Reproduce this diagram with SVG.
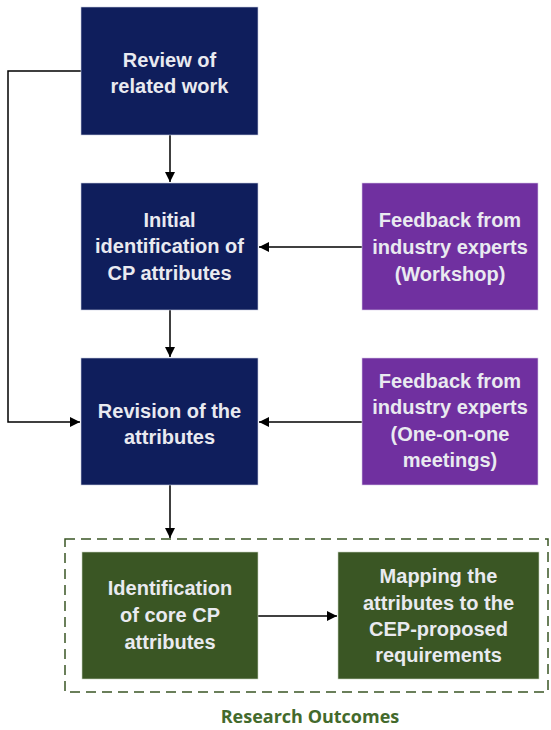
<svg xmlns="http://www.w3.org/2000/svg" width="551" height="730" viewBox="0 0 551 730">
<defs>
<marker id="ah" viewBox="0 0 10 10" refX="10" refY="5" markerWidth="10" markerHeight="10" markerUnits="userSpaceOnUse" orient="auto">
<path d="M0,0 L10,5 L0,10 z" fill="#000"/>
</marker>
</defs>
<style>
.navy{fill:#0f1e5c;stroke:#c8cce0;stroke-width:0.6}
.purple{fill:#7030a0;stroke:#d8c8e8;stroke-width:0.6}
.green{fill:#3a5624;stroke:#c8d4c0;stroke-width:0.6}
.t{font-family:"Liberation Sans",Arial,sans-serif;font-weight:bold;font-size:20px;fill:#e9eaf0;text-anchor:middle}
.c{stroke:#000;stroke-width:1.5;fill:none}
</style>
<rect x="0" y="0" width="551" height="730" fill="#fff"/>
<g id="connectors">
<path class="c" d="M81,71 H8 V422 H80" marker-end="url(#ah)"/>
<path class="c" d="M170,135 V182" marker-end="url(#ah)"/>
<path class="c" d="M170,310 V357" marker-end="url(#ah)"/>
<path class="c" d="M170,485 V538" marker-end="url(#ah)"/>
<path class="c" d="M362,247 H259" marker-end="url(#ah)"/>
<path class="c" d="M362,422 H259" marker-end="url(#ah)"/>
<path class="c" d="M258,616 H337" marker-end="url(#ah)"/>
</g>
<g id="outcomes">
<rect x="65" y="539" width="483" height="153" fill="none" stroke="#3a5624" stroke-width="1.5" stroke-dasharray="10,6"/>
<text x="310" y="723" style="font-family:'Open Sans','Liberation Sans',sans-serif;font-weight:bold;font-size:18px;fill:#436a2c;text-anchor:middle">Research Outcomes</text>
</g>
<g id="review">
<rect class="navy" x="81" y="7" width="177" height="128"/>
<text class="t" x="169.5" y="67">Review of</text>
<text class="t" x="169.5" y="93">related work</text>
</g>
<g id="initial">
<rect class="navy" x="81" y="183" width="177" height="127"/>
<text class="t" x="169.5" y="227">Initial</text>
<text class="t" x="169.5" y="253">identification of</text>
<text class="t" x="169.5" y="280">CP attributes</text>
</g>
<g id="workshop">
<rect class="purple" x="362" y="183" width="176" height="127"/>
<text class="t" x="450" y="227">Feedback from</text>
<text class="t" x="450" y="254">industry experts</text>
<text class="t" x="450" y="281">(Workshop)</text>
</g>
<g id="revision">
<rect class="navy" x="81" y="358" width="177" height="127"/>
<text class="t" x="169.5" y="418">Revision of the</text>
<text class="t" x="169.5" y="444">attributes</text>
</g>
<g id="oneonone">
<rect class="purple" x="362" y="358" width="176" height="127"/>
<text class="t" x="450" y="388">Feedback from</text>
<text class="t" x="450" y="414">industry experts</text>
<text class="t" x="450" y="441">(One-on-one</text>
<text class="t" x="450" y="467">meetings)</text>
</g>
<g id="core">
<rect class="green" x="82" y="552" width="176" height="127"/>
<text class="t" x="170" y="595">Identification</text>
<text class="t" x="170" y="622">of core CP</text>
<text class="t" x="170" y="649">attributes</text>
</g>
<g id="mapping">
<rect class="green" x="338" y="552" width="201" height="127"/>
<text class="t" x="438.5" y="583">Mapping the</text>
<text class="t" x="438.5" y="610">attributes to the</text>
<text class="t" x="438.5" y="636">CEP-proposed</text>
<text class="t" x="438.5" y="662">requirements</text>
</g>
</svg>
